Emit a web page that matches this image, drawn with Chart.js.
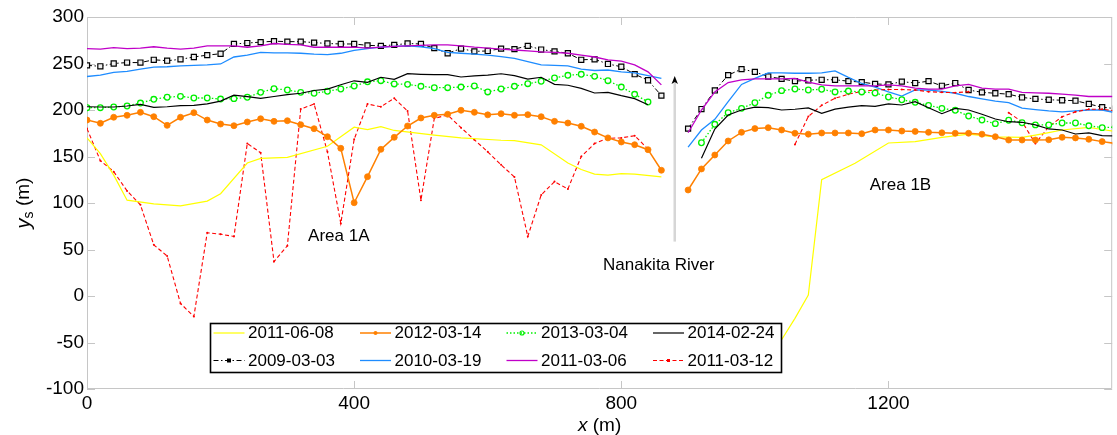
<!DOCTYPE html>
<html>
<head>
<meta charset="utf-8">
<script src="https://cdn.jsdelivr.net/npm/chart.js@4.4.1/dist/chart.umd.min.js"></script>
<style>
  html, body { margin: 0; padding: 0; background: #ffffff; }
  #wrap { width: 1117px; height: 435px; position: relative; }
</style>
</head>
<body>
<div id="wrap"><canvas id="c" width="1117" height="435"></canvas></div>
<script>
// Survey stations along the shore (m): Area 1A west of the river mouth, Area 1B east of it
const stationsA = [0,20,40,60,80,100,120,140,160,180,200,220,240,260,280,300,320,340,360,380,400,420,440,460,480,500,520,540,560,580,600,620,640,660,680,700,720,740,760,780,800,820,840,860];
const stationsB = [900,920,940,960,980,1000,1020,1040,1060,1080,1100,1120,1140,1160,1180,1200,1220,1240,1260,1280,1300,1320,1340,1360,1380,1400,1420,1440,1460,1480,1500,1520,1540];

// Shoreline position y_s (m) per survey date
const ys20090303A = [248,247,250,251,251,254,253,254.5,257,259,260.5,271,272,273,274,273.5,273.5,272.5,271.5,271,271,269.5,269,270,271.5,271,266.5,261,266,263,263.5,266,265.5,269,265,263,261,254,254.5,249.5,246.5,238.5,232,215.5];
const ys20090303B = [180,201,221,237.5,244,241,236,233.5,231,232,232.5,232.5,231,230,228,227.5,230.5,229,231,226,229,221.5,219,218,217,213.5,212,211,210.5,210,206.5,203,201.5];

const ys20100319A = [236,237.5,240.5,241.5,244,246,246.5,247.5,248,248.5,249.5,257,259,262,261.5,261.5,261,260,259.5,261,264,266,267.5,268.5,269,268,266,262,261,260,259,257.5,255.5,252,248.5,248,247.5,244,242.5,243,241,240,237,234];
const ys20100319B = [160,178.5,190,209,227.5,234,240,240,239.5,239.5,240,242,235,228.5,224.5,219.5,215,221.5,221.5,220,218,214.5,212,209.5,208,202,200.5,199,198,199,200,200,197];

const ys20110306A = [266,265.5,267,266,266.5,268,266.5,265.5,266.5,269,269,269,267.5,269,271.5,270.5,270,267.5,267.5,267.5,267.5,266.5,267.5,268.5,269,269.5,270,270,269,267.5,266.5,265.5,264.5,263.5,262.5,262,261,259,257,254,252.5,248.5,241,227];
const ys20110306B = [175.5,200,219.5,229.5,232.5,233.5,233.5,233.5,234,230,227,226,226,226,226,227,226,223.5,222.5,222.5,226,227.5,223.5,222.5,222.5,219,218.5,218,217,216,214.5,214.5,214.5];

// 2011-03-12 (after the tsunami): own station lists, gap where no shoreline was found
const xs20110312A = [0,20,40,60,80,100,120,140,160,180,200,220,240,260,280,300,320,340,360,380,400,420,440,460,480,500,520,540,560,580,600,620,640,660,680,700,720,740,760,780,800,820,840];
const ys20110312A = [180,145.5,133.7,113,98,55,43,-8,-22,68,66.5,64,164,154,37,54,201,206.5,155,78,168.5,206.5,203.5,212.6,199,103,191,194.6,181,168,155,141,128,64,108.6,123,115,150,164,169.6,170,172.4,158];
const xs20110312B = [1060,1080,1100,1120,1140,1160,1180,1200,1220,1240,1260,1280,1300,1320,1340,1360,1380,1400,1420,1440,1460,1480,1500,1520,1540];
const ys20110312B = [163,193,205,212.6,217,220,221.5,222,222,221.5,219.7,219,218.6,219.7,null,null,197,187.4,164,182,192.8,198,200.8,200.8,199];

const xs20110608A = [0,20,40,60,100,140,180,200,240,260,300,360,400,420,440,460,520,560,620,640,680,720,740,760,780,800,820,860];
const ys20110608A = [170,153,130,103,99,97,102,110,143,148,149,161,181.5,179,182,178,173,170,167.5,167,162.5,143,136,131,130,131.5,131,128];
const xs20110608B = [1040,1060,1080,1100,1150,1200,1240,1280,1320,1360,1400,1420,1440,1460,1500,1520,1540];
const ys20110608B = [-47,-24,1,125,142.7,164.5,166,170.6,174,171,170.6,173,175.6,178.5,181.4,179,177];

const ys20120314A = [189.2,185.7,192.2,194.3,197.5,192.8,183.5,192.2,197.1,189.2,184.9,183.1,187.1,190.6,187.8,188.5,184.2,179.9,171.3,158.8,100.3,128.3,157.7,170.6,182.8,191.4,194.3,195.4,199.7,197.5,194.8,196,194.3,195,192.8,187.8,186,182.5,176.3,170,165.6,162.7,157.3,135.2];
const ys20120314B = [114,136.6,151.6,166.7,176,180,181,178.5,175,174,175.3,175.3,175.3,174.5,178.5,178.5,177.4,177,176,175.5,175,175,174,171.3,167.7,167.7,167.7,168,170.6,170,168.5,166,164];

// 2013 and 2014 surveys stop at 840 m west and start at 920 m east
const ys20130304A = [202.5,202.5,203.2,204.3,207.5,211.5,213.7,214.7,212.9,212.9,211.8,212.2,213.7,219,222.9,221.5,219,218,220.1,222.6,225.8,230.3,231.5,228,227.6,225.5,224,224,224.7,225.8,219.4,222.6,225.5,228.3,230.9,234.4,237.3,238.4,236.2,231.5,224.7,216.9,208.6];
const ys20130304B = [164.8,184.6,197.1,201.8,207.8,215.8,220.8,222.6,221.5,222.3,219.4,220.4,219.4,218.3,214,211,208.3,205,201.8,199.7,193.5,189.2,185.3,189,186.3,184,184,186,186,183,181,181.7];

const ys20140224A = [203.5,203.2,203.2,204.3,206.1,202.9,203.5,204.6,205,206.5,209.5,216,214.3,212.4,214.5,216.6,218,221,222.5,227.2,231.4,229.8,235.2,233,239,238.4,238,238,235.5,236.6,237.6,239,237,233.3,235.2,227.6,226.6,223.3,218.3,219,215.4,212.2,205.7];
const ys20140224B = [148,179.6,194.6,200,203,202.5,200,200.8,202.2,196.5,201,203,204.6,204,206.5,205.4,209,202.5,196,201.8,200,195.4,190.3,187.4,186.8,184,179.6,178.5,174.2,175.3,172.4,172];

// Axis ticks
const xTicks = [0, 400, 800, 1200];
const yTicks = [-100, -50, 0, 50, 100, 150, 200, 250, 300];

// ---------------------------------------------------------------------------
function pts(xs, ys) { return ys.map((y, i) => ({ x: xs[i], y: y })); }
// left and right reaches joined with a break at the river mouth
function reaches(left, right) { return left.concat([{ x: 880, y: null }], right); }

const FONT = '"Liberation Sans", Arial, Helvetica, sans-serif';

const styles = {
  '2011-06-08': { color: '#ffff00', width: 1.2, dash: [], marker: null },
  '2012-03-14': { color: '#ff8000', width: 1.5, dash: [], marker: 'dot' },
  '2013-03-04': { color: '#00f000', width: 1.3, dash: [1.5, 2], marker: 'ring' },
  '2014-02-24': { color: '#000000', width: 1.2, dash: [], marker: null },
  '2009-03-03': { color: '#000000', width: 1, dash: [5, 2.5, 1.5, 2.5], marker: 'square' },
  '2010-03-19': { color: '#1e8cff', width: 1.3, dash: [], marker: null },
  '2011-03-06': { color: '#c000c8', width: 1.3, dash: [], marker: null },
  '2011-03-12': { color: '#ff0000', width: 1.1, dash: [4, 2.5], marker: 'tiny' }
};

const legendOrder = ['2011-06-08', '2012-03-14', '2013-03-04', '2014-02-24',
                     '2009-03-03', '2010-03-19', '2011-03-06', '2011-03-12'];

function dataset(label, data) {
  const s = styles[label];
  const ds = {
    label: label,
    data: data,
    borderColor: s.color,
    borderWidth: s.width,
    borderDash: s.dash,
    spanGaps: false,
    tension: 0,
    pointRadius: 0,
    pointHoverRadius: 0
  };
  if (s.marker === 'dot') {
    Object.assign(ds, { pointRadius: 3, pointBackgroundColor: s.color, pointBorderColor: s.color, pointBorderWidth: 0.8 });
  } else if (s.marker === 'ring') {
    Object.assign(ds, { pointRadius: 2.8, pointBackgroundColor: '#ffffff', pointBorderColor: s.color, pointBorderWidth: 1.3 });
  } else if (s.marker === 'square') {
    Object.assign(ds, { pointStyle: 'rect', pointRadius: 3.6, pointBackgroundColor: '#f0f0f0', pointBorderColor: '#000000', pointBorderWidth: 1.2 });
  } else if (s.marker === 'tiny') {
    Object.assign(ds, { pointRadius: 1, pointBackgroundColor: s.color, pointBorderColor: s.color, pointBorderWidth: 0 });
  }
  return ds;
}

// Dataset 0 is painted last, so the most recent survey sits on top
const datasets = [
  dataset('2014-02-24', reaches(pts(stationsA, ys20140224A), pts(stationsB.slice(1), ys20140224B))),
  dataset('2013-03-04', reaches(pts(stationsA, ys20130304A), pts(stationsB.slice(1), ys20130304B))),
  dataset('2012-03-14', reaches(pts(stationsA, ys20120314A), pts(stationsB, ys20120314B))),
  dataset('2011-06-08', reaches(pts(xs20110608A, ys20110608A), pts(xs20110608B, ys20110608B))),
  dataset('2011-03-12', reaches(pts(xs20110312A, ys20110312A), pts(xs20110312B, ys20110312B))),
  dataset('2011-03-06', reaches(pts(stationsA, ys20110306A), pts(stationsB, ys20110306B))),
  dataset('2010-03-19', reaches(pts(stationsA, ys20100319A), pts(stationsB, ys20100319B))),
  dataset('2009-03-03', reaches(pts(stationsA, ys20090303A), pts(stationsB, ys20090303B)))
];

// Light grey box with inward tick marks on all four sides
const axisBox = {
  id: 'axisBox',
  beforeDatasetsDraw(chart) {
    const { ctx, chartArea: a, scales } = chart;
    const tl = 8;
    ctx.save();
    ctx.strokeStyle = '#c6c6c6';
    ctx.lineWidth = 1;
    ctx.beginPath();
    ctx.rect(a.left + 0.5, a.top + 0.5, a.right - a.left - 1, a.bottom - a.top - 1);
    scales.x.ticks.forEach(t => {
      const p = Math.round(scales.x.getPixelForValue(t.value)) + 0.5;
      ctx.moveTo(p, a.bottom); ctx.lineTo(p, a.bottom - tl);
      ctx.moveTo(p, a.top); ctx.lineTo(p, a.top + tl);
    });
    scales.y.ticks.forEach(t => {
      const p = Math.round(scales.y.getPixelForValue(t.value)) + 0.5;
      ctx.moveTo(a.left, p); ctx.lineTo(a.left + tl, p);
      ctx.moveTo(a.right, p); ctx.lineTo(a.right - tl, p);
    });
    ctx.stroke();
    ctx.restore();
  }
};

// draw a run of text pieces (different fonts / offsets) centred on (0,0)
function drawRuns(ctx, runs) {
  let w = 0;
  runs.forEach(r => { ctx.font = r.font; r.w = ctx.measureText(r.text).width; w += r.w; });
  let x = -w / 2;
  runs.forEach(r => { ctx.font = r.font; ctx.fillText(r.text, x, r.dy || 0); x += r.w; });
}

// Labels placed in data coordinates, river-mouth arrow and axis titles
const notes = [
  { text: 'Area 1A', x: 377, y: 64.5 },
  { text: 'Area 1B', x: 1218, y: 119.5 },
  { text: 'Nanakita River', x: 856, y: 33.5 }
];
const riverArrow = { x: 880, yFrom: 58.5, yTo: 236.5 };

const annotations = {
  id: 'annotations',
  afterDatasetsDraw(chart) {
    const { ctx, chartArea: a, scales: { x, y } } = chart;
    ctx.save();
    // arrow marking the river mouth
    const ax = x.getPixelForValue(riverArrow.x);
    const y0 = y.getPixelForValue(riverArrow.yFrom);
    const y1 = y.getPixelForValue(riverArrow.yTo);
    ctx.strokeStyle = '#d6d6d6';
    ctx.lineWidth = 2.5;
    ctx.beginPath(); ctx.moveTo(ax, y0); ctx.lineTo(ax, y1 + 6); ctx.stroke();
    ctx.fillStyle = '#000000';
    ctx.beginPath();
    ctx.moveTo(ax, y1); ctx.lineTo(ax - 3.2, y1 + 8); ctx.lineTo(ax, y1 + 6); ctx.lineTo(ax + 3.2, y1 + 8);
    ctx.closePath(); ctx.fill();

    ctx.fillStyle = '#000000';
    ctx.textBaseline = 'middle';
    ctx.font = '17px ' + FONT;
    notes.forEach(n => {
      ctx.textAlign = 'center';
      ctx.fillText(n.text, x.getPixelForValue(n.x), y.getPixelForValue(n.y));
    });

    // axis titles
    ctx.textAlign = 'left';
    ctx.save();
    ctx.translate((a.left + a.right) / 2, 426);
    drawRuns(ctx, [
      { text: 'x', font: 'italic 19px ' + FONT },
      { text: ' (m)', font: '19px ' + FONT }
    ]);
    ctx.restore();
    ctx.save();
    ctx.translate(24, (a.top + a.bottom) / 2);
    ctx.rotate(-Math.PI / 2);
    drawRuns(ctx, [
      { text: 'y', font: 'italic 20px ' + FONT },
      { text: 's', font: '14px ' + FONT, dy: 5 },
      { text: ' (m)', font: '19px ' + FONT }
    ]);
    ctx.restore();
    ctx.restore();
  }
};

// Boxed two-row legend inside the axes
const legendBox = {
  id: 'legendBox',
  afterDraw(chart) {
    const { ctx } = chart;
    const box = { left: 210.5, top: 323.5, width: 571, height: 49 };
    const colPitch = 146.5, sampleLen = 31;
    const rowY = [box.top + 9.5, box.top + 37];
    ctx.save();
    ctx.fillStyle = '#ffffff';
    ctx.fillRect(box.left, box.top, box.width, box.height);
    ctx.strokeStyle = '#000000';
    ctx.lineWidth = 1.6;
    ctx.strokeRect(box.left, box.top, box.width, box.height);
    ctx.font = '17px ' + FONT;
    ctx.textBaseline = 'middle';
    ctx.textAlign = 'left';
    legendOrder.forEach((label, i) => {
      const s = styles[label];
      const row = Math.floor(i / 4), col = i % 4;
      const sx = box.left + 3 + col * colPitch;
      const sy = rowY[row];
      ctx.strokeStyle = s.color;
      ctx.lineWidth = s.width;
      ctx.setLineDash(s.dash);
      ctx.beginPath(); ctx.moveTo(sx, sy); ctx.lineTo(sx + sampleLen, sy); ctx.stroke();
      ctx.setLineDash([]);
      const cx = sx + sampleLen / 2;
      if (s.marker === 'dot') {
        ctx.fillStyle = s.color; ctx.beginPath(); ctx.arc(cx, sy, 2, 0, Math.PI * 2); ctx.fill();
      } else if (s.marker === 'ring') {
        ctx.strokeStyle = s.color; ctx.lineWidth = 1.2; ctx.beginPath(); ctx.arc(cx, sy, 2, 0, Math.PI * 2); ctx.stroke();
      } else if (s.marker === 'square') {
        ctx.fillStyle = '#000000'; ctx.fillRect(cx - 2, sy - 2, 4, 4);
      } else if (s.marker === 'tiny') {
        ctx.fillStyle = s.color; ctx.fillRect(cx - 1.5, sy - 1.5, 3, 3);
      }
      ctx.fillStyle = '#000000';
      ctx.fillText(label, sx + sampleLen + 3.5, sy + 0.5);
    });
    ctx.restore();
  }
};

Chart.defaults.font.family = FONT;
Chart.defaults.color = '#000000';

new Chart(document.getElementById('c'), {
  type: 'line',
  data: { datasets: datasets },
  options: {
    responsive: false,
    animation: false,
    events: [],
    layout: { padding: { top: 17, right: 0, left: 0, bottom: 0 } },
    plugins: { legend: { display: false }, tooltip: { enabled: false } },
    scales: {
      x: {
        type: 'linear',
        min: 0,
        max: 1535,
        grid: { display: false, drawTicks: false },
        border: { display: false },
        afterBuildTicks: s => { s.ticks = xTicks.map(v => ({ value: v })); },
        afterFit: s => { s.height = 46; },
        ticks: { font: { size: 19 }, padding: 3, maxRotation: 0, callback: v => String(v) }
      },
      y: {
        type: 'linear',
        min: -100,
        max: 300,
        grid: { display: false, drawTicks: false },
        border: { display: false },
        afterBuildTicks: s => { s.ticks = yTicks.map(v => ({ value: v })); },
        afterFit: s => { s.width = 87; },
        ticks: { font: { size: 19 }, padding: 3, callback: v => String(v) }
      }
    }
  },
  plugins: [axisBox, annotations, legendBox]
});
</script>
</body>
</html>
